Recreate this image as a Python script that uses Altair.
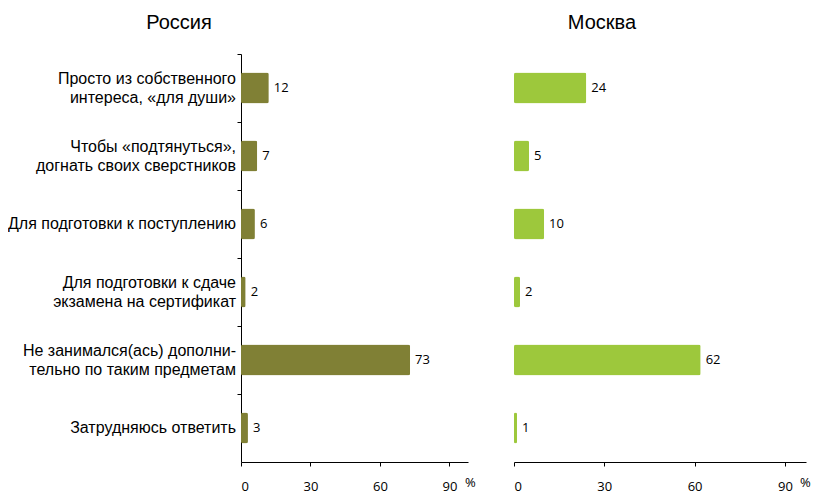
import altair as alt
import pandas as pd

categories = [
    "Просто из собственного|интереса, «для души»",
    "Чтобы «подтянуться»,|догнать своих сверстников",
    "Для подготовки к поступлению",
    "Для подготовки к сдаче|экзамена на сертификат",
    "Не занимался(ась) дополни-|тельно по таким предметам",
    "Затрудняюсь ответить",
]
russia = [12, 7, 6, 2, 73, 3]
moscow = [24, 5, 10, 2, 62, 1]
x_ticks = [0, 30, 60, 90]

df = pd.DataFrame({"cat": categories, "russia": russia, "moscow": moscow})

# label lines table (built from categories)
rows = []
for c in categories:
    parts = c.split("|")
    if len(parts) == 1:
        rows.append({"cat": c, "line": parts[0], "pos": "single"})
    else:
        rows.append({"cat": c, "line": parts[0], "pos": "first"})
        rows.append({"cat": c, "line": parts[1], "pos": "second"})
lab = pd.DataFrame(rows)

H = 408
LH = 19
LABEL_FONT = "Liberation Sans"
NUM_FONT = "Open Sans"


def panel(field, color, width, dmax, title, title_x, show_y, pct_dx):
    if show_y:
        y_axis = alt.Axis(
            title=None, bandPosition=0, labels=False, tickColor="#000",
            domainColor="#000", tickSize=4,
        )
    else:
        y_axis = None
    y = alt.Y("cat:N", sort=categories, axis=y_axis,
              scale=alt.Scale(paddingInner=0, paddingOuter=0))
    x = alt.X(f"{field}:Q",
              scale=alt.Scale(domain=[0, dmax], nice=False),
              axis=alt.Axis(values=x_ticks, title=None, grid=False, tickSize=4,
                            labelFont=NUM_FONT, labelFontSize=13, labelColor="#000",
                            domainColor="#000", tickColor="#000", labelPadding=14))
    base = alt.Chart(df)
    bars = base.mark_bar(size=31, color=color, cornerRadius=2).encode(x=x, y=y)
    text = base.mark_text(align="left", baseline="middle", dx=5, font=NUM_FONT,
                          fontSize=13, color="#000").encode(
        x=alt.X(f"{field}:Q"), y=alt.Y("cat:N", sort=categories), text=f"{field}:Q")
    ttl = alt.Chart(pd.DataFrame({"t": [title]})).mark_text(
        font=LABEL_FONT, fontSize=20, align="center", baseline="alphabetic", color="#000"
    ).encode(text="t:N", x=alt.value(title_x), y=alt.value(-25))
    pct = alt.Chart(pd.DataFrame({"t": ["%"]})).mark_text(
        font=NUM_FONT, fontSize=13, align="left", baseline="middle", color="#000"
    ).encode(text="t:N", x=alt.value(width + pct_dx), y=alt.value(H + 21))
    layers = [bars, text, ttl, pct]
    if show_y:
        for pos, dy in [("single", 0), ("first", -LH / 2), ("second", LH / 2)]:
            layers.append(
                alt.Chart(lab).transform_filter(alt.datum.pos == pos).mark_text(
                    align="right", baseline="middle", dx=-5, dy=dy, font=LABEL_FONT,
                    fontSize=16, color="#000"
                ).encode(x=alt.value(0), y=alt.Y("cat:N", sort=categories), text="line:N")
            )
    return alt.layer(*layers).properties(width=width, height=H)


left = panel("russia", "#808035", 227, 98, "Россия", -62, True, -3)
right = panel("moscow", "#9dc83c", 292, 97, "Москва", 88, False, -6)

chart = alt.hconcat(left, right, spacing=37).properties(
    padding={"left": 0, "top": 5, "right": 0, "bottom": 5}
).configure_view(stroke=None)

chart.save("out.html", embed_options={"renderer": "svg", "actions": False})
